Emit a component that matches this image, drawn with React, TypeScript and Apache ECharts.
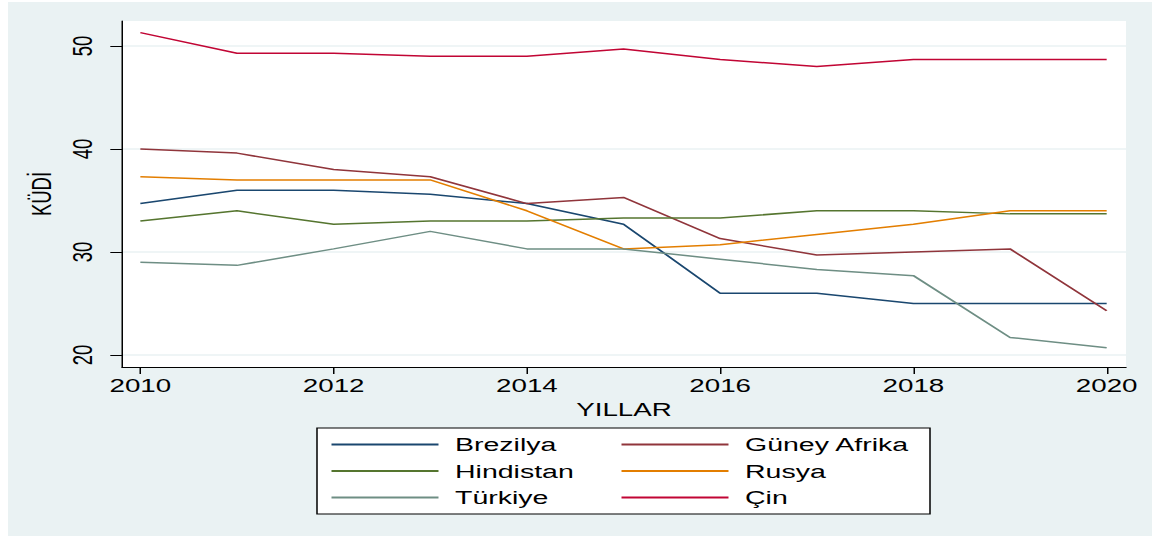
import React, { useEffect, useRef } from "react";
import * as echarts from "echarts";

const years = [2010, 2011, 2012, 2013, 2014, 2015, 2016, 2017, 2018, 2019, 2020];
const xTicks = [2010, 2012, 2014, 2016, 2018, 2020];
const yTicks = [20, 30, 40, 50];

const brezilya = [34.7, 36.0, 36.0, 35.6, 34.7, 32.7, 26.0, 26.0, 25.0, 25.0, 25.0];
const guneyAfrika = [40.0, 39.6, 38.0, 37.3, 34.7, 35.3, 31.3, 29.7, 30.0, 30.3, 24.3];
const hindistan = [33.0, 34.0, 32.7, 33.0, 33.0, 33.3, 33.3, 34.0, 34.0, 33.7, 33.7];
const rusya = [37.3, 37.0, 37.0, 37.0, 34.0, 30.3, 30.7, 31.7, 32.7, 34.0, 34.0];
const turkiye = [29.0, 28.7, 30.3, 32.0, 30.3, 30.3, 29.3, 28.3, 27.7, 21.7, 20.7];
const cin = [51.3, 49.3, 49.3, 49.0, 49.0, 49.7, 48.7, 48.0, 48.7, 48.7, 48.7];

const seriesNames = ["Brezilya", "Güney Afrika", "Hindistan", "Rusya", "Türkiye", "Çin"];
const seriesValues = [brezilya, guneyAfrika, hindistan, rusya, turkiye, cin];
const seriesColors = ["#1a476f", "#90353b", "#55752f", "#e37e00", "#6e8e84", "#c10534"];

const FONT = "'Liberation Sans', Arial, Helvetica, sans-serif";
const STRETCH = 1.5;
const CW = 1155 / STRETCH;
const CH = 536;

export default function App() {
  const ref = useRef<HTMLDivElement>(null);
  useEffect(() => {
    if (!ref.current) return;
    const chart = echarts.init(ref.current, undefined, { renderer: "svg" });
    const legendText = {
      fontFamily: FONT,
      fontSize: 19,
      color: "#000",
      padding: [0, 0, 0, 6],
    };
    const legendBase = {
      orient: "vertical",
      top: 435,
      padding: 0,
      itemWidth: 107 / STRETCH,
      itemHeight: 14,
      itemGap: 7.5,
      textStyle: legendText,
      itemStyle: { opacity: 0 },
      z: 10,
    };
    const option: any = {
      animation: false,
      backgroundColor: "#ffffff",
      textStyle: { fontFamily: FONT },
      graphic: [
        {
          type: "rect",
          z: -10,
          silent: true,
          shape: { x: 8 / STRETCH, y: 2, width: (1152 - 8) / STRETCH, height: 534 },
          style: { fill: "#eaf2f3" },
        },
        {
          type: "rect",
          z: 5,
          silent: true,
          shape: { x: 317 / STRETCH, y: 428, width: (930 - 317) / STRETCH, height: 86 },
          style: { fill: "#ffffff", stroke: "#000000", lineWidth: 1 },
        },
      ],
      grid: {
        left: 122 / STRETCH,
        right: CW - 1126 / STRETCH,
        top: 21,
        bottom: CH - 367,
        show: true,
        backgroundColor: "#ffffff",
        borderWidth: 0,
        z: 0,
      },
      legend: [
        {
          ...legendBase,
          data: seriesNames.filter((_, i) => i % 2 === 0),
          left: 330 / STRETCH,
        },
        {
          ...legendBase,
          data: seriesNames.filter((_, i) => i % 2 === 1),
          left: 620 / STRETCH,
        },
      ],
      xAxis: {
        type: "value",
        min: 2009.81,
        max: 2020.2,
        name: "YILLAR",
        nameLocation: "middle",
        nameGap: 24,
        nameTextStyle: { fontFamily: FONT, fontSize: 18.5, color: "#000" },
        axisLine: { show: true, onZero: false, lineStyle: { color: "#000", width: 1 } },
        axisTick: { show: true, length: 7, customValues: xTicks, lineStyle: { color: "#000", width: 1 } },
        axisLabel: {
          customValues: xTicks,
          margin: 9,
          fontFamily: FONT,
          fontSize: 18.5,
          color: "#000",
          formatter: (v: number) => String(v),
        },
        splitLine: { show: false },
      },
      yAxis: {
        type: "value",
        min: 18.83,
        max: 52.43,
        name: "KÜDİ",
        nameLocation: "middle",
        nameGap: 36,
        nameTextStyle: { fontFamily: FONT, fontSize: 18.5, color: "#000" },
        axisLine: { show: true, onZero: false, lineStyle: { color: "#000", width: 1 } },
        axisTick: { show: true, length: 7.8, customValues: yTicks, lineStyle: { color: "#000", width: 1 } },
        axisLabel: {
          customValues: yTicks,
          rotate: 90,
          margin: 17,
          fontFamily: FONT,
          fontSize: 18.5,
          color: "#000",
          formatter: (v: number) => String(v),
        },
        splitLine: { show: true, lineStyle: { color: "#eaf2f3", width: 1.5 } },
      },
      series: seriesNames.map((name, i) => ({
        name,
        type: "line",
        data: years.map((y, j) => [y, seriesValues[i][j]]),
        symbol: "none",
        showSymbol: false,
        lineStyle: { color: seriesColors[i], width: 1.5 },
        itemStyle: { color: seriesColors[i] },
        z: 3,
      })),
    };
    chart.setOption(option);
    return () => chart.dispose();
  }, []);
  return (
    <div
      style={{
        position: "absolute",
        left: 0,
        top: 0,
        width: 1155,
        height: 536,
        overflow: "hidden",
        background: "#ffffff",
      }}
    >
      <div
        ref={ref}
        style={{
          width: CW,
          height: CH,
          transform: `scaleX(${STRETCH})`,
          transformOrigin: "0 0",
        }}
      />
    </div>
  );
}
